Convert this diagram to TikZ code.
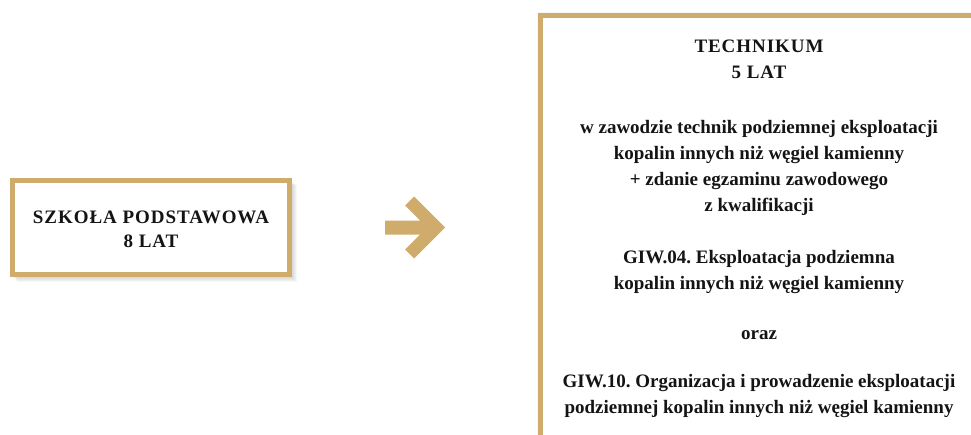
\documentclass[tikz,border=0pt]{standalone}
\usepackage{fontspec}
\setmainfont{Liberation Serif}
\usepackage{tikz}
\usetikzlibrary{positioning}
\definecolor{gold}{HTML}{CFAC6B}
\definecolor{ink}{HTML}{141414}
\newcommand{\wide}[1]{{\addfontfeature{LetterSpace=5}#1}}
\tikzset{px/.style={x=1pt,y=-1pt,line width=.5pt,font=\frenchspacing\bfseries\fontsize{19}{26}\selectfont},
  frame/.style={draw=gold,line width=5pt,fill=white,inner sep=0pt},
  txt/.style={text=ink,align=center,inner sep=0pt},
  haze/.style={fill=black,opacity=.03}}

\begin{document}
\begin{tikzpicture}[px]
  \useasboundingbox (0,0) rectangle (971,434);\clip (0,0) rectangle (971,434);
  % soft shadows under the frames
  \foreach \d in {1,...,7}{\fill[haze] (12.5+\d*.6,180.5+\d*.6) rectangle (289.5+\d,274.5+\d);
    \fill[haze] (540.5-\d*.5,15.5-\d*.5) rectangle (977.5+\d,470);}
  \node[frame,minimum width=277pt,minimum height=94pt] (szkola) at (151,227.5) {};
  \node[txt,yshift=-2pt] at (szkola) {\wide{SZKOŁA PODSTAWOWA}\\[-2pt]\wide{8 LAT}};
  \node[frame,minimum width=437pt,minimum height=445pt] (technikum) at (759,238) {};
  \node[txt,below=27pt of technikum.north] (opis) {\wide{TECHNIKUM}\\\wide{5 LAT}\\[29pt]
    w zawodzie technik podziemnej eksploatacji\\kopalin innych niż węgiel kamienny\\
    + zdanie egzaminu zawodowego\\z kwalifikacji\\[26pt]
    GIW.04. Eksploatacja podziemna\\kopalin innych niż węgiel kamienny\\[24pt]
    oraz\\[22pt]
    GIW.10. Organizacja i prowadzenie eksploatacji\\podziemnej kopalin innych niż węgiel kamienny};
  \coordinate[right=93pt of szkola.east] (strz);
  \fill[gold,shift={(strz)}] (0,-7)--(35,-7)--(20,-22)--(29,-31)--(60,0)--(29,31)--(20,22)--(35,7)--(0,7)--cycle;
\end{tikzpicture}
\end{document}
